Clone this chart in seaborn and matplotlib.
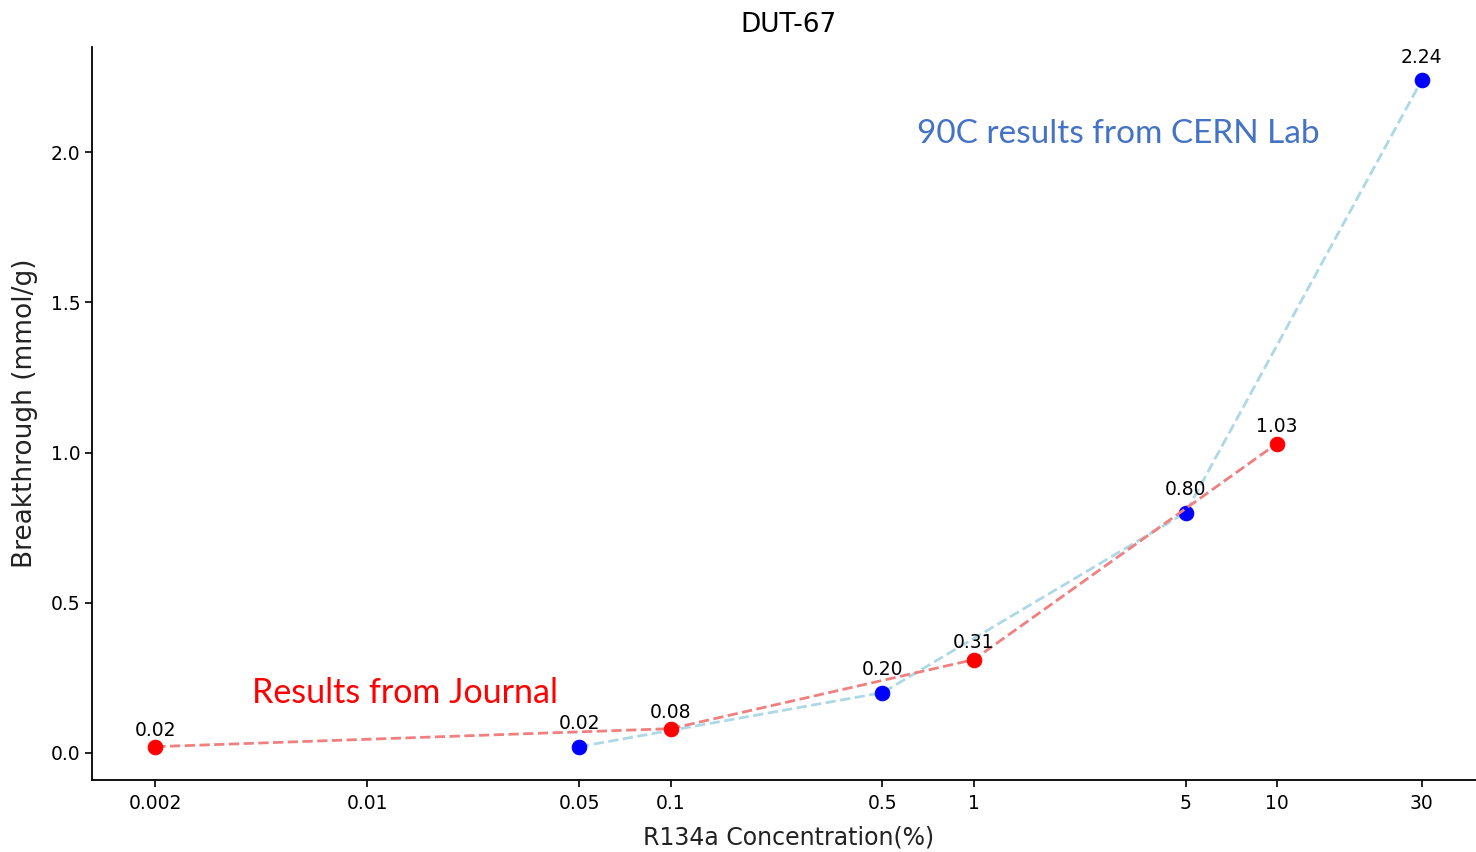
import matplotlib
matplotlib.use("Agg")
import matplotlib.pyplot as plt
from matplotlib.ticker import NullLocator
import pandas as pd
import seaborn as sns

# CERN lab points (blue) and journal points (red)
cern_conc = [0.05, 0.5, 5, 30]
cern_bt = [0.02, 0.20, 0.80, 2.24]
journal_conc = [0.002, 0.1, 1, 10]
journal_bt = [0.02, 0.08, 0.31, 1.03]

xtick_vals = [0.002, 0.01, 0.05, 0.1, 0.5, 1, 5, 10, 30]
xtick_labels = ["0.002", "0.01", "0.05", "0.1", "0.5", "1", "5", "10", "30"]

cern = pd.DataFrame({"conc": cern_conc, "bt": cern_bt})
journal = pd.DataFrame({"conc": journal_conc, "bt": journal_bt})

sns.set_style("ticks")
plt.rcParams["font.family"] = ["DejaVu Sans"]

fig = plt.figure(figsize=(14.76, 8.52), dpi=100)
ax = fig.add_axes([92 / 1476, 72 / 852, 1393 / 1476, 733 / 852])

sns.lineplot(data=cern, x="conc", y="bt", ax=ax, color="lightblue", linestyle="--", linewidth=2,
             marker="o", markersize=10.5, markerfacecolor="blue", markeredgecolor="blue")
sns.lineplot(data=journal, x="conc", y="bt", ax=ax, color="lightcoral", linestyle="--", linewidth=2,
             marker="o", markersize=10.5, markerfacecolor="red", markeredgecolor="red")

# value labels
for x, y in zip(cern_conc, cern_bt):
    ax.annotate(f"{y:.2f}", (x, y), xytext=(0, 16.5), textcoords="offset points",
                ha="center", va="center", fontsize=13.5, color="black")
for x, y in zip(journal_conc, journal_bt):
    ax.annotate(f"{y:.2f}", (x, y), xytext=(0, 12), textcoords="offset points",
                ha="center", va="center", fontsize=13.5, color="black")

ax.set_xscale("log")
ax.set_xticks(xtick_vals)
ax.set_xticklabels(xtick_labels)
ax.xaxis.set_minor_locator(NullLocator())
ax.tick_params(axis="both", labelsize=13.5, colors="black", length=5, width=1.2)
ax.tick_params(axis="x", pad=5)

ax.set_xlabel("R134a Concentration(%)", fontsize=17, color="#222222", labelpad=9)
ax.set_ylabel("Breakthrough (mmol/g)", fontsize=19, color="#222222", labelpad=9)
ax.set_title("DUT-67", fontsize=19, pad=11, color="black")

for s in ["left", "bottom"]:
    ax.spines[s].set_color("black")
    ax.spines[s].set_linewidth(1.3)
sns.despine(ax=ax)

ax.text(0.7365, 0.881, "90C results from CERN Lab", transform=ax.transAxes, ha="center", va="center",
        fontsize=24, color="#4472C4", family=["Lato", "DejaVu Sans"])
ax.text(0.225, 0.1187, "Results from Journal", transform=ax.transAxes, ha="center", va="center",
        fontsize=24.5, color="red", family=["Lato", "DejaVu Sans"])

fig.savefig("out.png", dpi=100)
